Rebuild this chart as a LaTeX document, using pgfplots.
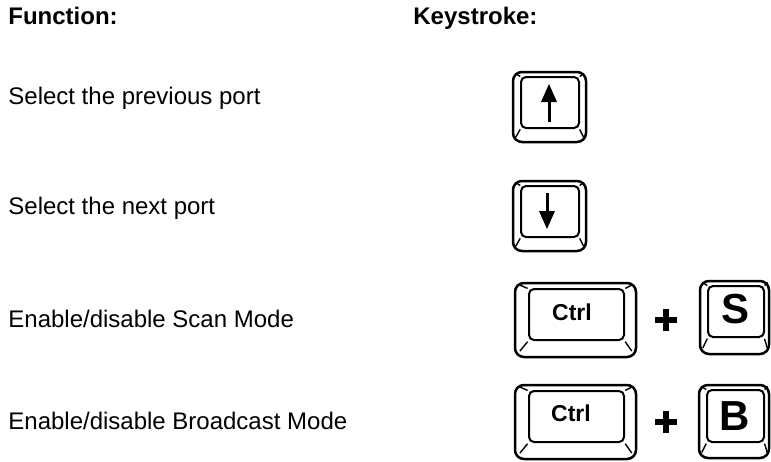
\documentclass[border=0pt]{standalone}
\usepackage{pgfplots}
\pgfplotsset{compat=1.18}
\usetikzlibrary{calc}
\usepackage{fontspec}
\setmainfont{Liberation Sans}
\newcommand{\key}[8]{%
 \draw[line width=1.25pt, rounded corners=4.5pt] (axis cs:#1,#2) rectangle (axis cs:#3,#4);
 \draw[line width=1pt, rounded corners=2.5pt] (axis cs:#5,#6) rectangle (axis cs:#7,#8);
 \draw[line width=0.7pt] ($(axis cs:#5,#6)!0.1!(axis cs:#1,#2)$) -- ($(axis cs:#5,#6)!0.7!(axis cs:#1,#2)$);
 \draw[line width=0.7pt] ($(axis cs:#7,#6)!0.1!(axis cs:#3,#2)$) -- ($(axis cs:#7,#6)!0.7!(axis cs:#3,#2)$);
 \draw[line width=0.7pt] ($(axis cs:#5,#8)!0.1!(axis cs:#1,#4)$) -- ($(axis cs:#5,#8)!0.65!(axis cs:#1,#4)$);
 \draw[line width=0.7pt] ($(axis cs:#7,#8)!0.1!(axis cs:#3,#4)$) -- ($(axis cs:#7,#8)!0.65!(axis cs:#3,#4)$);
}
\begin{document}
\begin{tikzpicture}
\path[use as bounding box] (0,0) rectangle (385.5pt,230.5pt);
\begin{axis}[
  at={(0,0)}, anchor=south west,
  scale only axis, width=385.5pt, height=230.5pt,
  xmin=0, xmax=771, ymin=0, ymax=461, y dir=reverse,
  hide axis, clip=false]
\addplot[draw=none, forget plot] coordinates {(0,0) (771,461)};
% headings
\node[anchor=base west, inner sep=0pt, font=\fontsize{12}{14}\selectfont\bfseries] at (axis cs:8,24) {Function:};
\node[anchor=base west, inner sep=0pt, font=\fontsize{12}{14}\selectfont\bfseries] at (axis cs:413,24) {Keystroke:};
% row labels
\node[anchor=base west, inner sep=0pt, font=\fontsize{12}{14}\selectfont] at (axis cs:8,104) {Select the previous port};
\node[anchor=base west, inner sep=0pt, font=\fontsize{12}{14}\selectfont] at (axis cs:8,214) {Select the next port};
\node[anchor=base west, inner sep=0pt, font=\fontsize{12}{14}\selectfont] at (axis cs:8,327) {Enable/disable Scan Mode};
\node[anchor=base west, inner sep=0pt, font=\fontsize{12}{14}\selectfont] at (axis cs:8,429) {Enable/disable Broadcast Mode};
% keys
\key{513}{72}{586}{142}{521}{77}{579}{128}
\key{513}{181}{586}{251}{521}{186}{579}{237}
\key{515}{283}{636}{357}{529}{289}{624}{340}
\key{700}{281}{769}{354}{708}{286}{764}{337}
\key{515}{385}{636}{459}{529}{391}{624}{442}
\key{699}{385}{769}{458}{707}{390}{764}{442}
% arrows
\draw[line width=1.5pt] (axis cs:549,122) -- (axis cs:549,98);
\fill (axis cs:549,84) -- (axis cs:541,102) -- (axis cs:557,102) -- cycle;
\draw[line width=1.5pt] (axis cs:547,193) -- (axis cs:547,214);
\fill (axis cs:547,229) -- (axis cs:539,211) -- (axis cs:555,211) -- cycle;
% key labels
\node[anchor=base, inner sep=0pt, font=\fontsize{11.5}{13}\selectfont\bfseries] at (axis cs:572,320) {Ctrl};
\node[anchor=base, inner sep=0pt, font=\fontsize{11.5}{13}\selectfont\bfseries] at (axis cs:571,421) {Ctrl};
\node[anchor=base, inner sep=0pt, font=\fontsize{21}{24}\selectfont\bfseries] at (axis cs:735,323) {S};
\node[anchor=base, inner sep=0pt, font=\fontsize{21}{24}\selectfont\bfseries] at (axis cs:735,430) {B};
% plus signs
\fill (axis cs:655,317) rectangle (axis cs:677,323);
\fill (axis cs:663,309) rectangle (axis cs:669,331);
\fill (axis cs:655,419) rectangle (axis cs:677,425);
\fill (axis cs:663,411) rectangle (axis cs:669,433);
\end{axis}
\end{tikzpicture}
\end{document}
